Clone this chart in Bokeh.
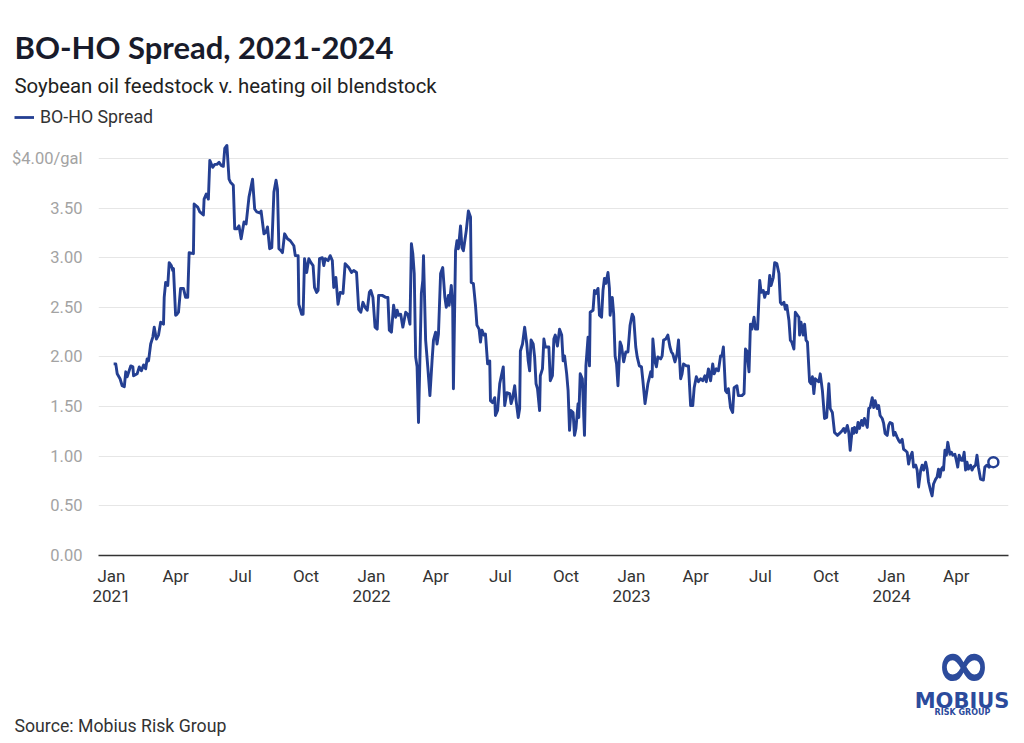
import pandas as pd
from bokeh.plotting import figure
from bokeh.layouts import column
from bokeh.models import (ColumnDataSource, FixedTicker, Range1d, Label, Legend,
                          LegendItem, NumeralTickFormatter)
from bokeh.embed import file_html
from bokeh.resources import INLINE

# ---------------- data ----------------
series_name = "BO-HO Spread"

md_2021 = ["01-04","01-07","01-09","01-13","01-16","01-19","01-21","01-23","01-28","01-31",
           "02-01","02-06","02-09","02-12","02-15","02-18","02-20","02-22","02-25","02-28",
           "03-02","03-05","03-08","03-11","03-15","03-16","03-18","03-21","03-23","03-26",
           "03-28","03-29","04-01","04-03","04-05","04-08","04-12","04-15","04-18","04-20",
           "04-26","04-27","05-02","05-05","05-10","05-11","05-14","05-17","05-19","05-23",
           "05-26","05-29","06-01","06-04","06-07","06-09","06-12","06-15","06-17","06-21",
           "06-23","06-26","06-29","07-02","07-06","07-09","07-13","07-15","07-18","07-21",
           "07-24","07-28","07-30","08-03","08-06","08-08","08-11","08-14","08-17","08-20",
           "08-22","08-24","08-27","08-29","09-01","09-05","09-09","09-14","09-16","09-20",
           "09-21","09-25","09-27","09-29","10-02","10-05","10-08","10-11","10-13","10-16",
           "10-18","10-20","10-24","10-26","10-28","11-01","11-04","11-07","11-09","11-12",
           "11-15","11-18","11-22","11-25","11-30","12-04","12-07","12-11","12-14","12-17",
           "12-20","12-23","12-26","12-29","12-31"]
v_2021 = [1.93,1.93,1.83,1.78,1.71,1.70,1.85,1.80,1.91,1.90,
          1.81,1.83,1.90,1.86,1.92,1.88,1.98,1.96,2.13,2.20,
          2.30,2.18,2.22,2.35,2.33,2.60,2.75,2.72,2.95,2.92,
          2.87,2.89,2.42,2.43,2.45,2.69,2.69,2.60,2.60,3.05,
          3.04,3.54,3.51,3.46,3.43,3.59,3.64,3.59,3.98,3.91,
          3.94,3.94,3.96,3.93,3.92,4.10,4.13,3.79,3.76,3.73,
          3.29,3.29,3.32,3.19,3.36,3.34,3.61,3.68,3.79,3.49,
          3.46,3.45,3.47,3.24,3.26,3.31,3.09,3.10,3.66,3.78,
          3.69,3.09,3.07,3.05,3.24,3.19,3.17,3.12,3.02,3.02,
          2.53,2.43,2.43,2.99,2.85,2.99,2.95,2.92,2.70,2.65,
          2.67,2.99,3.00,2.92,2.99,2.97,3.02,2.97,2.70,2.80,
          2.53,2.65,2.64,2.94,2.90,2.85,2.87,2.85,2.48,2.45,
          2.55,2.50,2.47,2.65,2.67]

md_2022 = ["01-03","01-06","01-09","01-11","01-16","01-21","01-24","01-26","01-29","02-01",
           "02-04","02-06","02-08","02-11","02-14","02-18","02-21","02-24","02-26","02-28",
           "03-02","03-04","03-06","03-08","03-12","03-14","03-15","03-18","03-21","03-24",
           "03-27","03-29","04-01","04-03","04-05","04-08","04-11","04-14","04-16","04-19",
           "04-20","04-23","04-25","04-26","04-29","05-01","05-03","05-06","05-08","05-10",
           "05-14","05-17","05-20","05-21","05-24","05-27","05-29","06-01","06-03","06-05",
           "06-08","06-10","06-13","06-16","06-17","06-20","06-23","06-24","06-27","06-30",
           "07-02","07-05","07-07","07-10","07-14","07-16","07-18","07-21","07-23","07-26",
           "07-28","07-29","08-01","08-04","08-07","08-09","08-11","08-13","08-16","08-18",
           "08-20","08-22","08-25","08-26","08-29","08-31","09-02","09-07","09-09","09-12",
           "09-14","09-16","09-19","09-22","09-25","09-27","09-29","10-02","10-04","10-06",
           "10-08","10-11","10-13","10-15","10-18","10-19","10-21","10-24","10-27","10-29",
           "11-01","11-03","11-04","11-08","11-10","11-12","11-15","11-17","11-20","11-22",
           "11-24","11-26","11-29","12-01","12-02","12-05","12-07","12-09","12-11","12-13",
           "12-16","12-18","12-21","12-24","12-27","12-30"]
v_2022 = [2.60,2.30,2.28,2.62,2.62,2.60,2.60,2.27,2.25,2.52,
          2.40,2.47,2.42,2.43,2.30,2.45,2.43,2.33,3.14,3.04,
          2.84,2.00,1.90,1.34,2.64,2.77,3.02,2.17,1.90,1.61,
          1.96,2.17,2.25,2.13,2.23,2.84,2.90,2.60,2.50,2.62,
          2.52,2.72,2.50,1.68,3.07,3.17,3.09,3.32,3.10,3.07,
          3.27,3.47,3.41,2.75,2.74,2.52,2.32,2.28,2.15,2.27,
          2.22,2.23,1.93,1.96,1.56,1.54,1.59,1.41,1.46,1.73,
          1.80,1.90,1.51,1.64,1.63,1.53,1.58,1.71,1.56,1.39,
          1.48,2.06,2.13,2.30,2.13,1.96,1.86,2.17,2.13,2.00,
          1.73,1.68,1.46,1.81,1.88,2.18,2.10,2.10,1.76,1.81,
          2.18,2.22,2.11,2.28,2.22,1.96,2.01,1.83,1.66,1.26,
          1.46,1.44,1.21,1.28,1.53,1.39,1.83,1.78,1.21,1.91,
          2.20,1.91,2.45,2.47,2.67,2.64,2.69,2.42,2.40,2.67,
          2.79,2.74,2.85,2.69,2.42,2.60,2.43,2.01,1.93,1.71,
          2.15,2.11,1.95,2.05,2.05,2.32]

md_2023 = ["01-02","01-04","01-07","01-09","01-12","01-15","01-17","01-20","01-22","01-24",
           "01-28","01-30","01-31","02-03","02-05","02-07","02-11","02-13","02-15","02-18",
           "02-21","02-24","02-26","02-28","03-03","03-06","03-08","03-11","03-13","03-15",
           "03-19","03-22","03-25","03-28","03-30","04-02","04-05","04-08","04-11","04-14",
           "04-16","04-19","04-22","04-25","04-27","04-30","05-03","05-06","05-08","05-10",
           "05-13","05-15","05-17","05-20","05-23","05-25","05-29","05-31","06-05","06-08",
           "06-10","06-12","06-15","06-17","06-19","06-22","06-24","06-27","06-30","07-02",
           "07-05","07-07","07-09","07-12","07-14","07-16","07-19","07-21","07-24","07-27",
           "07-29","07-31","08-03","08-05","08-07","08-10","08-12","08-14","08-17","08-19",
           "08-21","08-24","08-25","08-27","08-30","09-01","09-03","09-05","09-08","09-10",
           "09-12","09-14","09-16","09-19","09-21","09-23","09-26","09-29","10-02","10-05",
           "10-07","10-10","10-13","10-17","10-20","10-24","10-26","10-28","10-31","11-02",
           "11-04","11-07","11-09","11-10","11-13","11-15","11-17","11-20","11-22","11-24",
           "11-28","11-30","12-02","12-05","12-07","12-09","12-12","12-14","12-16","12-19",
           "12-21","12-23","12-26","12-28","12-30"]
v_2023 = [2.43,2.40,2.10,2.00,1.91,1.90,1.76,1.53,1.63,1.73,
          1.85,1.80,2.18,1.95,1.90,2.00,1.98,2.01,2.17,2.18,
          2.22,2.10,2.05,2.03,1.95,2.03,2.17,1.78,1.83,1.93,
          1.91,1.91,1.51,1.51,1.69,1.80,1.75,1.78,1.76,1.81,
          1.75,1.88,1.76,1.93,1.83,1.88,1.86,2.01,2.01,2.10,
          1.66,1.64,1.68,1.49,1.44,1.69,1.71,1.61,1.61,1.63,
          2.08,2.06,1.85,2.33,2.28,2.40,2.28,2.28,2.77,2.65,
          2.67,2.60,2.65,2.64,2.82,2.72,2.80,2.95,2.94,2.84,
          2.55,2.53,2.55,2.48,2.52,2.37,2.17,2.15,2.08,2.45,
          2.43,2.40,2.22,2.35,2.22,2.33,2.17,2.15,1.75,1.73,
          1.80,1.63,1.78,1.76,1.75,1.83,1.66,1.38,1.39,1.73,
          1.48,1.44,1.24,1.21,1.23,1.26,1.28,1.24,1.31,1.24,
          1.06,1.28,1.23,1.29,1.24,1.34,1.28,1.36,1.31,1.38,
          1.29,1.48,1.49,1.59,1.49,1.56,1.48,1.51,1.41,1.38,
          1.33,1.23,1.21,1.31,1.34]

md_2024 = ["01-02","01-04","01-06","01-09","01-11","01-13","01-16","01-18","01-20","01-23",
           "01-25","01-27","01-30","02-01","02-04","02-06","02-08","02-11","02-13","02-15",
           "02-18","02-20","02-22","02-25","02-27","02-29","03-03","03-05","03-07","03-09",
           "03-11","03-13","03-14","03-16","03-18","03-20","03-23","03-25","03-27","03-30",
           "04-01","04-03","04-05","04-08","04-10","04-12","04-14","04-16","04-18","04-21",
           "04-23","04-25","04-28","04-30","05-02","05-05","05-09","05-11","05-14","05-17",
           "05-20","05-23"]
v_2024 = [1.33,1.21,1.24,1.19,1.16,1.14,1.17,1.07,1.06,1.04,
          0.92,0.99,1.04,0.89,0.91,0.86,0.69,0.86,0.91,0.86,
          0.94,0.87,0.74,0.65,0.60,0.72,0.77,0.79,0.87,0.79,
          0.87,0.89,0.86,1.06,1.01,1.14,1.02,1.04,1.01,1.02,
          0.96,0.89,1.01,0.96,0.96,1.04,0.86,0.94,0.87,0.91,
          0.86,0.89,0.91,1.01,0.89,0.77,0.76,0.89,0.91,0.89,
          0.91,0.94]

x_tick_dates = ["2021-01-01","2021-04-01","2021-07-01","2021-10-01",
                "2022-01-01","2022-04-01","2022-07-01","2022-10-01",
                "2023-01-01","2023-04-01","2023-07-01","2023-10-01",
                "2024-01-01","2024-04-01"]
x_tick_labels = ["Jan\n2021","Apr","Jul","Oct",
                 "Jan\n2022","Apr","Jul","Oct",
                 "Jan\n2023","Apr","Jul","Oct",
                 "Jan\n2024","Apr"]
y_ticks = [0.0, 0.5, 1.0, 1.5, 2.0, 2.5, 3.0, 3.5, 4.0]
y_top_label = "$4.00/gal"

title_text = "BO-HO Spread, 2021-2024"
subtitle_text = "Soybean oil feedstock v. heating oil blendstock"
source_text = "Source: Mobius Risk Group"

# ---------------- build table ----------------
dates, values = [], []
for yr, mds, vals in [(2021, md_2021, v_2021), (2022, md_2022, v_2022),
                      (2023, md_2023, v_2023), (2024, md_2024, v_2024)]:
    dates += [f"{yr}-{m}" for m in mds]
    values += vals
df = pd.DataFrame({"date": pd.to_datetime(dates), "value": values})
src = ColumnDataSource(df)
last = ColumnDataSource(df.tail(1))

def to_ms(d):
    return float((pd.Timestamp(d) - pd.Timestamp("1970-01-01")) // pd.Timedelta(milliseconds=1))

tick_ms = [to_ms(d) for d in x_tick_dates]

BLUE = "#243f92"
LOGO = "#2c4b9c"
W = 1024

def panel(height, top, bottom):
    """A blank figure whose data units are page pixels (y grows downward)."""
    f = figure(width=W, height=height, output_backend="svg", toolbar_location=None,
               title=None, x_axis_location=None, y_axis_location=None,
               x_range=Range1d(0, W), y_range=Range1d(bottom, top),
               min_border=0)
    f.frame_align = False
    f.outline_line_color = None
    f.grid.visible = False
    f.background_fill_color = "white"
    f.border_fill_color = "white"
    return f

def lab(f, x, y, text, **kw):
    f.add_layout(Label(x=x, y=y, text=text, **kw))

# ---------------- header ----------------
head = panel(140, 0, 140)
lab(head, 14, 46, title_text, text_font="Lato", text_font_style="bold",
    text_font_size="31px", text_color="#181b2b", text_baseline="alphabetic")
lab(head, 14, 85, subtitle_text, text_font="Roboto", text_font_size="20.4px",
    text_color="#222222", text_baseline="alphabetic")
# legend key (a line renderer with no visible points, styled like the series)
proxy = head.line(x=[float("nan")], y=[float("nan")], line_color=BLUE, line_width=2.8)
head.add_layout(Legend(items=[LegendItem(label=series_name, renderers=[proxy])],
                       location=(14, 13), orientation="horizontal",
                       glyph_width=20, glyph_height=20, label_standoff=6, padding=0,
                       margin=0, spacing=0, border_line_color=None,
                       background_fill_alpha=0, label_text_font="Roboto",
                       label_text_font_size="17.8px", label_text_color="#333333"))

# ---------------- main chart ----------------
p = figure(width=W, height=470, x_axis_type="datetime", output_backend="svg",
           toolbar_location=None, title=None,
           x_range=Range1d(pd.Timestamp("2020-12-13 18:00"), pd.Timestamp("2024-06-13 06:00")),
           y_range=Range1d(0, 4.18),
           min_border_left=98, min_border_right=16, min_border_top=0, min_border_bottom=55)
p.frame_align = False
p.outline_line_color = None
p.background_fill_color = "white"
p.border_fill_color = "white"

xa = p.xaxis[0]
xa.ticker = FixedTicker(ticks=tick_ms)
xa.major_label_overrides = {ms: lab_ for ms, lab_ in zip(tick_ms, x_tick_labels)}
xa.axis_line_color = "#333333"
xa.axis_line_width = 1.5
xa.major_tick_line_color = None
xa.minor_tick_line_color = None
xa.major_label_standoff = 4
xa.major_label_text_line_height = 1.0
xa.major_label_text_font = "Roboto"
xa.major_label_text_font_size = "17px"
xa.major_label_text_color = "#333333"

ya = p.yaxis[0]
ya.ticker = FixedTicker(ticks=y_ticks)
ya.formatter = NumeralTickFormatter(format="0.00")
ya.major_label_overrides = {4.0: y_top_label}
ya.axis_line_color = None
ya.major_tick_line_color = None
ya.minor_tick_line_color = None
ya.major_label_standoff = 10
ya.major_label_text_font = "Roboto"
ya.major_label_text_font_size = "16.5px"
ya.major_label_text_color = "#a3a3a3"

p.xgrid.visible = False
p.ygrid.grid_line_color = "#e6e6e6"
p.ygrid.grid_line_width = 1

r = p.line("date", "value", source=src, line_color=BLUE, line_width=2.9, line_join="round")
p.scatter("date", "value", source=last, size=10, fill_color="white",
          line_color=BLUE, line_width=2.5)

# ---------------- footer ----------------
foot = panel(133, 610, 743)
lab(foot, 14, 725, source_text, text_font="Roboto", text_font_size="17.7px",
    text_color="#333333", text_baseline="alphabetic")
lab(foot, 963, 664, "\u221e", text_font="DejaVu Sans", text_font_style="bold",
    text_font_size="66px", text_color=LOGO, text_align="center", text_baseline="middle")
lab(foot, 961.5, 700, "MOBIUS", text_font="DejaVu Sans", text_font_style="bold",
    text_font_size="21px", text_color=LOGO, text_align="center", text_baseline="alphabetic")
lab(foot, 962, 712, "RISK GROUP", text_font="DejaVu Sans", text_font_style="bold",
    text_font_size="8px", text_color=LOGO, text_align="center", text_baseline="alphabetic")

layout = column(head, p, foot, spacing=0)
open("out.html", "w").write(file_html(layout, INLINE))
